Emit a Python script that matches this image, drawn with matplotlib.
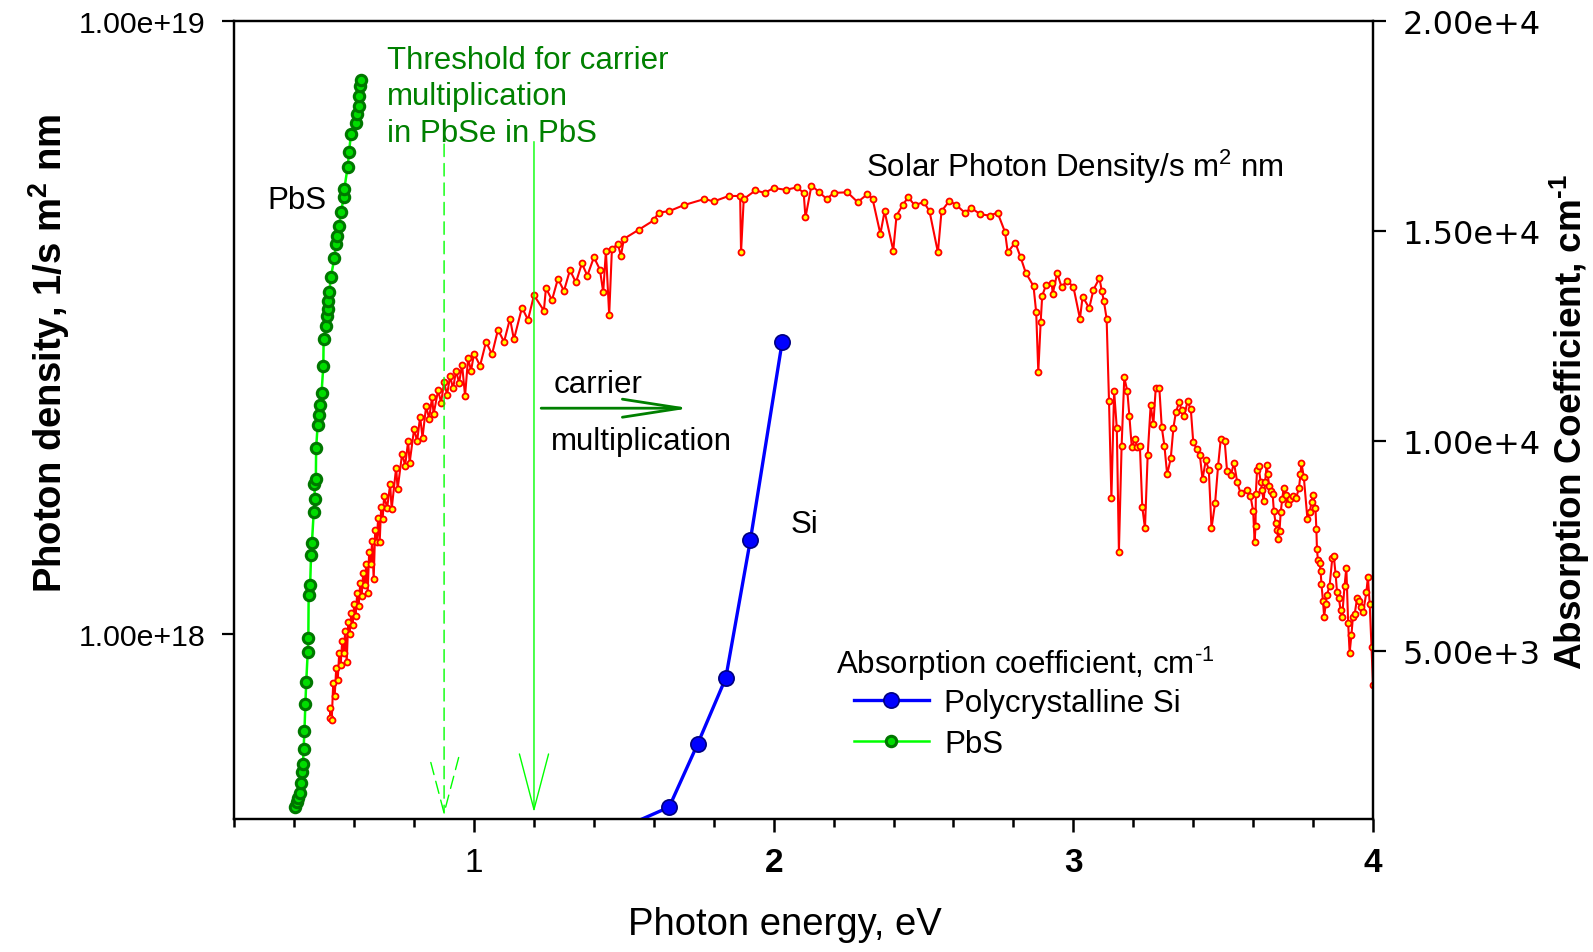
import matplotlib.pyplot as plt
from matplotlib.ticker import FixedLocator, FuncFormatter, MultipleLocator, NullLocator

plt.rcParams['font.family'] = ['Liberation Sans', 'DejaVu Sans']
plt.rcParams['mathtext.default'] = 'regular'

# solar photon density, 1/s m^2 nm (in units of 1e18) vs photon energy, eV
# below 1.5 eV the points are very dense, read as upper / lower edge of the band
solar_ev = [0.519, 0.520, 0.525, 0.530, 0.535, 0.540, 0.545, 0.550, 0.555, 0.560,
            0.565, 0.570, 0.575, 0.580, 0.585, 0.590, 0.595, 0.600, 0.605, 0.610,
            0.615, 0.620, 0.625, 0.630, 0.635, 0.640, 0.645, 0.650, 0.655, 0.660,
            0.665, 0.670, 0.675, 0.680, 0.685, 0.690, 0.695, 0.700, 0.710, 0.720,
            0.725, 0.740, 0.745, 0.760, 0.770, 0.780, 0.785, 0.800, 0.810, 0.820,
            0.828, 0.840, 0.850, 0.860, 0.865, 0.880, 0.890, 0.900, 0.910, 0.920,
            0.930, 0.940, 0.950, 0.960, 0.970, 0.980, 0.990, 1.000, 1.020, 1.040,
            1.060, 1.080, 1.100, 1.120, 1.133, 1.160, 1.180, 1.200, 1.233, 1.240,
            1.260, 1.280, 1.300, 1.320, 1.340, 1.360, 1.378, 1.400, 1.420, 1.431,
            1.440, 1.451, 1.460, 1.480, 1.490,
            1.500, 1.550, 1.599, 1.616, 1.650, 1.700, 1.769, 1.800, 1.850,
            1.888, 1.891, 1.900, 1.939, 1.970, 2.000, 2.040, 2.078, 2.100, 2.106,
            2.126, 2.150, 2.177, 2.200, 2.246, 2.280, 2.313, 2.330, 2.356, 2.370,
            2.399, 2.410, 2.430, 2.449, 2.470, 2.501, 2.520, 2.548, 2.560, 2.586,
            2.610, 2.637, 2.660, 2.690, 2.722, 2.747, 2.772, 2.781, 2.806, 2.824,
            2.841, 2.867, 2.876, 2.883, 2.891, 2.896, 2.909, 2.928, 2.931, 2.946,
            2.961, 2.978, 3.000, 3.022, 3.031, 3.053, 3.067, 3.087, 3.095, 3.102,
            3.111, 3.119, 3.127, 3.136, 3.145, 3.152, 3.161, 3.170, 3.180, 3.187,
            3.195, 3.206, 3.213, 3.222, 3.230, 3.239, 3.248, 3.258, 3.267, 3.275,
            3.287, 3.295, 3.304, 3.313, 3.325, 3.334, 3.342, 3.353, 3.361, 3.370,
            3.381, 3.392, 3.400, 3.411, 3.422, 3.431, 3.442, 3.452, 3.461, 3.473,
            3.483, 3.492, 3.505, 3.513, 3.526, 3.536, 3.547, 3.558, 3.580, 3.591,
            3.600, 3.605, 3.608, 3.609, 3.613, 3.618, 3.625, 3.630, 3.635, 3.640,
            3.645, 3.649, 3.653, 3.659, 3.665, 3.669, 3.675, 3.679, 3.684, 3.688,
            3.692, 3.697, 3.702, 3.708, 3.715, 3.722, 3.733, 3.744, 3.753, 3.758,
            3.761, 3.769, 3.781, 3.789, 3.795, 3.800, 3.808, 3.811, 3.813, 3.816,
            3.822, 3.825, 3.828, 3.833, 3.837, 3.842, 3.846, 3.855, 3.864, 3.869,
            3.875, 3.880, 3.886, 3.892, 3.897, 3.905, 3.911, 3.917, 3.922, 3.928,
            3.933, 3.939, 3.947, 3.953, 3.959, 3.967, 3.978, 3.983, 3.989, 3.995,
            4.000]
solar_e18 = [0.730, 0.759, 0.724, 0.832, 0.794, 0.881, 0.841, 0.933, 0.891, 0.977,
             0.933, 1.012, 0.900, 1.047, 1.000, 1.084, 1.035, 1.122, 1.072, 1.167,
             1.114, 1.211, 1.156, 1.259, 1.202, 1.303, 1.169, 1.365, 1.303, 1.422,
             1.230, 1.479, 1.413, 1.549, 1.413, 1.614, 1.542, 1.683, 1.607, 1.758,
             1.600, 1.871, 1.726, 1.972, 1.884, 2.065, 1.905, 2.163, 2.065, 2.265,
             2.094, 2.355, 2.249, 2.438, 2.286, 2.500, 2.388, 2.576, 2.460, 2.636,
             2.518, 2.692, 2.570, 2.754, 2.449, 2.818, 2.692, 2.871, 2.742, 2.999,
             2.864, 3.141, 2.999, 3.273, 3.027, 3.412, 3.258, 3.573, 3.373, 3.673,
             3.508, 3.802, 3.631, 3.926, 3.750, 4.027, 3.846, 4.121, 3.936, 3.614,
             4.217, 3.319, 4.246, 4.335, 4.140,
             4.416, 4.571, 4.732, 4.875, 4.898, 5.012, 5.129, 5.082, 5.188,
             5.188, 4.198, 5.129, 5.297, 5.248, 5.346, 5.309, 5.358, 5.248, 4.786,
             5.395, 5.272, 5.129, 5.248, 5.260, 5.070, 5.224, 5.129, 4.498, 4.898,
             4.227, 4.819, 5.012, 5.164, 5.012, 5.070, 4.898, 4.198, 4.898, 5.093,
             5.012, 4.875, 4.955, 4.842, 4.819, 4.875, 4.529, 4.198, 4.355, 4.121,
             3.890, 3.698, 3.350, 2.679, 3.236, 3.565, 3.715, 3.741, 3.589, 3.882,
             3.681, 3.776, 3.690, 3.273, 3.556, 3.404, 3.648, 3.811, 3.631, 3.491,
             3.273, 2.399, 1.667, 2.495, 2.168, 1.365, 2.028, 2.624, 2.495, 2.270,
             2.018, 2.080, 2.018, 2.032, 1.614, 1.489, 1.959, 2.366, 2.203, 2.523,
             2.518, 2.178, 2.028, 1.824, 1.936, 2.173, 2.301, 2.393, 2.323, 2.270,
             2.399, 2.328, 2.061, 2.009, 1.963, 1.791, 1.923, 1.854, 1.489, 1.637,
             1.884, 2.084, 2.065, 1.845, 1.820, 1.905, 1.770, 1.698, 1.722, 1.683,
             1.589, 1.416, 1.503, 1.694, 1.854, 1.879, 1.774, 1.718, 1.648, 1.774,
             1.888, 1.824, 1.746, 1.714, 1.694, 1.592, 1.517, 1.479, 1.432, 1.476,
             1.581, 1.663, 1.734, 1.690, 1.629, 1.660, 1.683, 1.671, 1.734, 1.824,
             1.905, 1.807, 1.545, 1.585, 1.644, 1.687, 1.607, 1.483, 1.377, 1.324,
             1.309, 1.268, 1.208, 1.132, 1.069, 1.119, 1.159, 1.199, 1.330, 1.343,
             1.256, 1.172, 1.146, 1.094, 1.069, 1.199, 1.285, 1.045, 0.933, 0.998,
             1.069, 1.081, 1.146, 1.132, 1.107, 1.086, 1.172, 1.242, 1.119, 0.955,
             0.826]
solar_density = [v * 1e18 for v in solar_e18]

# absorption coefficient, cm^-1
si_ev = [1.45, 1.651, 1.746, 1.840, 1.922, 2.028]
si_alpha = [650, 1282, 2784, 4356, 7638, 12350]

pbs_ev = [0.403, 0.408, 0.413, 0.419, 0.422, 0.427, 0.429, 0.431, 0.434, 0.437,
          0.440, 0.445, 0.447, 0.448, 0.453, 0.456, 0.459, 0.465, 0.469, 0.467,
          0.472, 0.473, 0.478, 0.483, 0.485, 0.491, 0.497, 0.498, 0.506, 0.509,
          0.511, 0.513, 0.517, 0.522, 0.534, 0.539, 0.542, 0.550, 0.556, 0.565,
          0.567, 0.578, 0.583, 0.589, 0.607, 0.611, 0.615, 0.617, 0.619, 0.622]
pbs_alpha = [1292, 1400, 1506, 1609, 1863, 2117, 2300, 2657, 3094, 3730,
             4271, 4976, 5319, 6334, 6566, 7281, 7583, 8322, 8615, 8973,
             9092, 9824, 10379, 10624, 10863, 11142, 11792, 12428, 12745, 12984,
             13143, 13341, 13541, 13900, 14360, 14693, 14890, 15129, 15448, 15806,
             16003, 16520, 16878, 17314, 17576, 17791, 17989, 18227, 18451, 18608]

x_major = [1, 2, 3, 4]
x_major_labels = ['1', '2', '3', '4']
left_ticks = [1e18, 1e19]
right_ticks = [5000, 10000, 15000, 20000]

threshold_lines = ['Threshold for carrier', 'multiplication', 'in PbSe in PbS']
threshold_alpha = [18880, 18029, 17154]

fs = 22.5
dark_green = '#008000'
cm_inv = 'cm$^{\u20101}$'

fig = plt.figure(figsize=(15.93, 9.53), dpi=100)
ax = fig.add_axes([0.1471, 0.1396, 0.7148, 0.8371])
ax2 = ax.twinx()

ax.plot(solar_ev, solar_density, '-o', color='red', lw=1.5, ms=4.3,
        mfc='yellow', mec='red', mew=1.3)
ax.set_yscale('log')
ax.set_ylim(5e17, 1e19)
ax.set_xlim(0.2, 4)
ax.yaxis.set_major_locator(FixedLocator(left_ticks))
ax.yaxis.set_minor_locator(NullLocator())
ax.yaxis.set_major_formatter(FuncFormatter(lambda v, p: '%.2e' % v))
ax.set_xticks(x_major)
xlabels = ax.set_xticklabels(x_major_labels)
for t in xlabels[1:]:
    t.set_fontweight('bold')
ax.xaxis.set_minor_locator(MultipleLocator(0.2))

ax2.plot(si_ev, si_alpha, '-o', color='blue', lw=2.4, ms=11,
         mfc='blue', mec='#000080', mew=1.2, label='Polycrystalline Si')
ax2.plot(pbs_ev, pbs_alpha, '-o', color='#00ff00', lw=1.8, ms=7.5,
         mfc='#00dd00', mec='#007700', mew=2.2, label='PbS')
ax2.set_ylim(1000, 20000)
ax2.yaxis.set_major_locator(FixedLocator(right_ticks))
ax2.yaxis.set_major_formatter(FuncFormatter(lambda v, p: ('%.2e' % v).replace('e+0', 'e+')))

for a in (ax, ax2):
    for s in a.spines.values():
        s.set_linewidth(1.6)
ax.tick_params(axis='y', which='major', direction='out', length=9, width=1.6,
               labelsize=21.8, pad=12)
ax.tick_params(axis='x', which='major', direction='out', length=9, width=1.8,
               labelsize=24, pad=11)
ax.tick_params(axis='x', which='minor', direction='out', length=5.5, width=1.8)
ax2.tick_params(axis='y', direction='out', length=9, width=1.6, labelsize=23,
                pad=12, labelfontfamily='DejaVu Sans')

ax.set_xlabel('Photon energy, eV', fontsize=27.5, va='baseline')
ax.xaxis.set_label_coords(0.4836, -0.1442)
ax.set_ylabel('Photon density, 1/s m$^2$ nm', fontsize=27.5, fontweight='bold',
              va='baseline')
ax.yaxis.set_label_coords(-0.1516, 0.585)
ax2.set_ylabel('Absorption Coefficient, ' + cm_inv, fontsize=26.6,
               fontweight='bold', rotation=90, va='baseline')
ax2.yaxis.set_label_coords(1.1835, 0.499)

# threshold arrows
ax2.annotate('', xy=(0.9, 0.004), xytext=(0.9, 0.846),
             xycoords=('data', 'axes fraction'), textcoords=('data', 'axes fraction'),
             arrowprops=dict(arrowstyle='->,head_length=4,head_width=1.05',
                             mutation_scale=10, color='#00ff00', lw=1.0,
                             linestyle=(0, (9, 5)), shrinkA=0, shrinkB=0))
ax2.annotate('', xy=(1.2, 0.0084), xytext=(1.2, 0.849),
             xycoords=('data', 'axes fraction'), textcoords=('data', 'axes fraction'),
             arrowprops=dict(arrowstyle='->,head_length=4,head_width=1.05',
                             mutation_scale=10, color='#00ff00', lw=1.0,
                             shrinkA=0, shrinkB=0))
ax2.annotate('', xy=(1.72, 0.5149), xytext=(1.224, 0.5149),
             xycoords=('data', 'axes fraction'), textcoords=('data', 'axes fraction'),
             arrowprops=dict(arrowstyle='->,head_length=4.2,head_width=0.65',
                             mutation_scale=10, color=dark_green, lw=2.0,
                             shrinkA=0, shrinkB=0))

for line, a in zip(threshold_lines, threshold_alpha):
    ax2.text(0.709, a, line, color=dark_green, fontsize=fs, va='baseline')
ax2.text(1.265, 11173, 'carrier', fontsize=fs, va='baseline')
ax2.text(1.258, 9807, 'multiplication', fontsize=fs, va='baseline')
ax2.text(0.311, 15543, 'PbS', fontsize=fs, va='baseline')
ax2.text(2.058, 7836, 'Si', fontsize=fs, va='baseline')
ax2.text(2.309, 16320, 'Solar Photon Density/s m$^2$ nm', fontsize=fs, va='baseline')
ax2.text(2.207, 4469, 'Absorption coefficient, ' + cm_inv, fontsize=fs, va='baseline')

ax2.legend(loc='upper left', bbox_to_anchor=(0.5358, 0.2767),
           bbox_transform=fig.transFigure, frameon=False, fontsize=fs,
           borderpad=0, borderaxespad=0, handlelength=2.4, handletextpad=0.5,
           labelspacing=0.35)

fig.savefig('out.png', dpi=100)
